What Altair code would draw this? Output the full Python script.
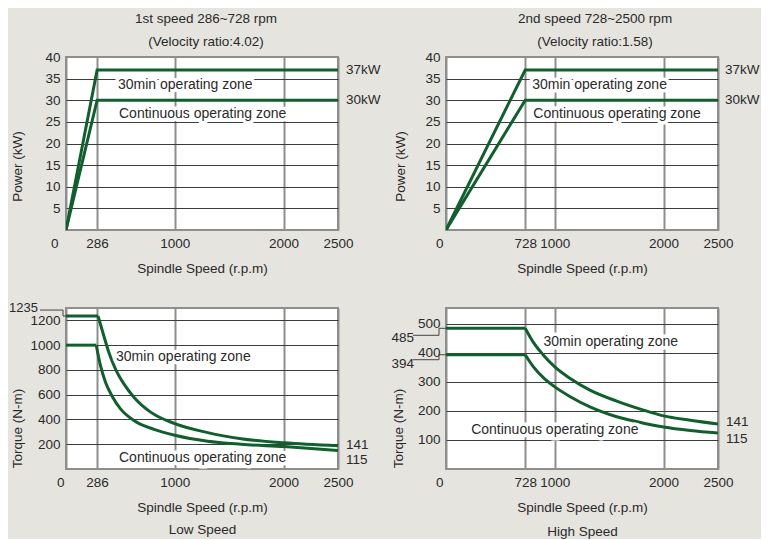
import altair as alt
import pandas as pd

GREEN = "#10602e"
TEXT = "#2a2a2a"
BG = "#e5e4df"
VGRID = "#8e8e8e"
HGRID = "#3c3c3c"
FONT = "Liberation Sans"
FS = 13.5
ZFS = 14

# ---------------- data ----------------
low_power_speed = [0, 286, 2500]
low_power_30min = [0, 37, 37]
low_power_cont = [0, 30, 30]

high_power_speed = [0, 728, 2500]
high_power_30min = [0, 37, 37]
high_power_cont = [0, 30, 30]

low_torque_30min_speed = [0, 295, 348, 394, 455, 532, 624, 778, 1000, 1302, 1609, 2003, 2500]
low_torque_30min = [1235, 1235, 1074, 941, 807, 687, 580, 459, 366, 294, 245, 211, 187]
low_torque_cont_speed = [0, 278, 317, 363, 424, 501, 624, 809, 1000, 1302, 1609, 2003, 2500]
low_torque_cont = [1000, 1000, 834, 700, 588, 486, 392, 320, 272, 224, 200, 181, 150]

high_torque_speed = [0, 728, 800, 892, 1000, 1138, 1323, 1569, 1815, 2000, 2246, 2500]
high_torque_30min = [485, 485, 438, 394, 352, 313, 272, 234, 203, 183, 168, 155]
high_torque_cont = [394, 394, 354, 316, 283, 250, 214, 180, 158, 145, 133, 124]

low_x_ticks = [0, 286, 1000, 2000, 2500]
high_x_ticks = [0, 728, 1000, 2000, 2500]
power_y_ticks = [5, 10, 15, 20, 25, 30, 35, 40]
low_torque_y_ticks = [200, 400, 600, 800, 1000, 1200]
high_torque_y_ticks = [100, 200, 300, 400, 500]


def series_frame(pairs, split):
    rows = []
    for zone, xs, ys in pairs:
        for i, (x, y) in enumerate(zip(xs, ys)):
            if split:
                if i <= 1:
                    rows.append({"speed": x, "value": y, "zone": zone, "seg": zone + "_flat"})
                if i >= 1:
                    rows.append({"speed": x, "value": y, "zone": zone, "seg": zone + "_curve"})
            else:
                rows.append({"speed": x, "value": y, "zone": zone, "seg": zone})
    return pd.DataFrame(rows)


def x_axis(values, title, line_height, zero_off):
    return alt.Axis(
        values=values, tickCount=50, format="d", grid=True, gridColor=VGRID, gridWidth=2,
        ticks=False, domain=False, labelFlush=False, labelOverlap=False, labelPadding=6,
        labelFont=FONT, labelFontSize=FS, labelColor=TEXT,
        labelAlign={"condition": {"test": "datum.value === 0", "value": "right"}, "value": "center"},
        labelOffset={"condition": {"test": "datum.value === 0", "value": zero_off}, "value": 0},
        title=title, titleFont=FONT, titleFontSize=FS, titleFontWeight="normal", titleColor=TEXT,
        titlePadding=12, titleLineHeight=line_height,
    )


def y_axis(values, title, top, title_pad, title_y):
    return alt.Axis(
        values=values, tickCount=50, format="d", grid=True, gridColor=HGRID, gridWidth=1,
        ticks=False, domain=False, labelOverlap=False,
        gridOpacity={"condition": {"test": "datum.value >= %s" % top, "value": 0}, "value": 1},
        labelPadding=6, labelFont=FONT, labelFontSize=FS, labelColor=TEXT,
        title=title, titleFont=FONT, titleFontSize=FS, titleFontWeight="normal", titleColor=TEXT,
        titlePadding=title_pad, titleY=title_y,
    )


def text(label, x, y, dx=0, dy=0, align="left", halo=False, size=FS):
    df = pd.DataFrame({"label": [label]})
    layers = []
    if halo:
        layers.append(
            alt.Chart(df).mark_text(align=align, baseline="middle", dx=dx, dy=dy, font=FONT,
                                    fontSize=size, color="white", stroke="white", strokeWidth=7)
            .encode(x=alt.datum(x), y=alt.datum(y), text="label:N")
        )
    layers.append(
        alt.Chart(df).mark_text(align=align, baseline="middle", dx=dx, dy=dy, font=FONT,
                                fontSize=size, color=TEXT)
        .encode(x=alt.datum(x), y=alt.datum(y), text="label:N")
    )
    return layers


def zone(label, x, y):
    return text(label, x, y, halo=True, size=ZFS)


def leader(level, x_text_end, x_step, y_off):
    one = pd.DataFrame({"k": [0]})
    h1 = alt.Chart(one).mark_rule(color="#444", strokeWidth=1, xOffset=x_text_end, x2Offset=x_step,
                                  yOffset=y_off).encode(
        x=alt.datum(0), x2=alt.datum(0), y=alt.datum(level))
    v = alt.Chart(one).mark_rule(color="#444", strokeWidth=1, xOffset=x_step, yOffset=y_off,
                                 y2Offset=0).encode(
        x=alt.datum(0), y=alt.datum(level), y2=alt.datum(level))
    h2 = alt.Chart(one).mark_rule(color="#444", strokeWidth=1, xOffset=x_step, x2Offset=0).encode(
        x=alt.datum(0), x2=alt.datum(0), y=alt.datum(level))
    return [h1, v, h2]


def panel(df, xticks, yticks, ydom, ytitle, xtitle, h, curve, extra, title=None, ytp=18,
          xlh=22, zero_off=0, title_y=100):
    base = alt.Chart(df).mark_line(
        color=GREEN, strokeWidth=3, interpolate="monotone" if curve else "linear", clip=True
    ).encode(
        x=alt.X("speed:Q", scale=alt.Scale(domain=[0, 2500], nice=False, zero=False),
                axis=x_axis(xticks, xtitle, xlh, zero_off)),
        y=alt.Y("value:Q", scale=alt.Scale(domain=ydom, nice=False),
                axis=y_axis(yticks, ytitle, ydom[1], ytp, title_y)),
        detail="seg:N",
    )
    props = dict(width=272, height=h)
    if title is not None:
        props["title"] = title
    return alt.layer(base, *extra).properties(**props)


def ttl(lines, dx):
    return alt.TitleParams(text=lines, font=FONT, fontSize=FS, fontWeight="normal", color=TEXT,
                           lineHeight=23, frame="group", anchor="middle", dx=dx, offset=2)


# ---------- top-left ----------
tl_df = series_frame([("30min", low_power_speed, low_power_30min),
                      ("cont", low_power_speed, low_power_cont)], False)
tl = panel(
    tl_df, low_x_ticks, power_y_ticks, [0, 40], "Power (kW)", "Spindle Speed (r.p.m)", 173, False,
    zone("30min operating zone", 478, 33.5)
    + zone("Continuous operating zone", 487, 26.8)
    + text("37kW", 2500, 37, dx=8) + text("30kW", 2500, 30, dx=8),
    title=ttl(["1st speed 286~728 rpm", "(Velocity ratio:4.02)"], 4),
    ytp=20, zero_off=-8, title_y=109,
)

# ---------- top-right ----------
tr_df = series_frame([("30min", high_power_speed, high_power_30min),
                      ("cont", high_power_speed, high_power_cont)], False)
tr = panel(
    tr_df, high_x_ticks, power_y_ticks, [0, 40], "Power (kW)", "Spindle Speed (r.p.m)", 173, False,
    zone("30min operating zone", 793, 33.5)
    + zone("Continuous operating zone", 803, 26.8)
    + text("37kW", 2500, 37, dx=7) + text("30kW", 2500, 30, dx=7),
    title=ttl(["2nd speed 728~2500 rpm", "(Velocity ratio:1.58)"], 13),
    ytp=17, zero_off=-3, title_y=109,
)

# ---------- bottom-left ----------
bl_df = series_frame([("30min", low_torque_30min_speed, low_torque_30min),
                      ("cont", low_torque_cont_speed, low_torque_cont)], True)
bl = panel(
    bl_df, low_x_ticks, low_torque_y_ticks, [0, 1300], "Torque (N-m)",
    ["Spindle Speed (r.p.m)", "Low Speed"], 161, True,
    zone("30min operating zone", 460, 904)
    + zone("Continuous operating zone", 487, 88)
    + text("141", 2500, 194, dx=8) + text("115", 2500, 72, dx=8)
    + text("1235", 0, 1235, dx=-28, dy=-8, align="right", size=13)
    + leader(1235, -26, -3, -6),
    ytp=5, xlh=22, zero_off=-2, title_y=120,
)

# ---------- bottom-right ----------
br_df = series_frame([("30min", high_torque_speed, high_torque_30min),
                      ("cont", high_torque_speed, high_torque_cont)], True)
br = panel(
    br_df, high_x_ticks, high_torque_y_ticks, [0, 555], "Torque (N-m)",
    ["Spindle Speed (r.p.m)", "High Speed"], 161, True,
    zone("30min operating zone", 895, 438)
    + zone("Continuous operating zone", 231, 133)
    + text("141", 2500, 163, dx=8) + text("115", 2500, 103, dx=8)
    + text("485", 0, 485, dx=-32, dy=10, align="right")
    + text("394", 0, 394, dx=-32, dy=9, align="right")
    + leader(485, -33, -7, 7)
    + leader(394, -33, -7, 5),
    ytp=12, xlh=24, zero_off=-3, title_y=120,
)

chart = alt.concat(tl, tr, bl, br, columns=2, spacing={"row": 78, "column": 108}).properties(
    bounds="flush",
    background=BG,
    padding={"left": 0, "top": 2, "right": 0, "bottom": 0},
).configure_view(fill="white", stroke=VGRID, strokeWidth=2)

chart.save("out.html", embed_options={"renderer": "svg", "actions": False})
